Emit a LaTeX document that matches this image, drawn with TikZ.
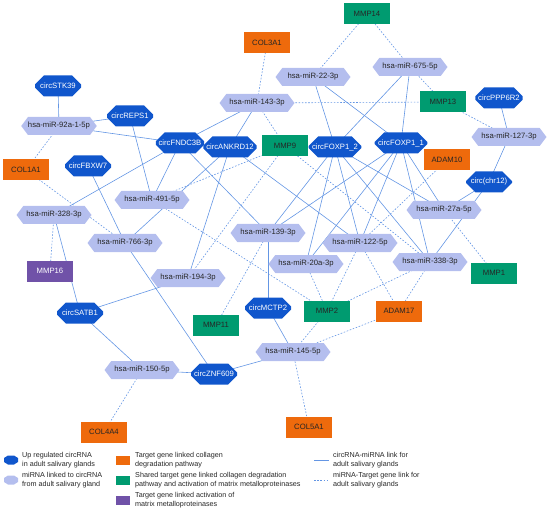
\documentclass[tikz,border=0pt]{standalone}
\usepackage{fontspec}
\setmainfont{Liberation Sans}
\usetikzlibrary{shapes.misc,shapes.symbols,backgrounds}
\definecolor{cblue}{RGB}{16,86,204}
\definecolor{mfill}{RGB}{180,190,238}
\definecolor{elink}{RGB}{100,150,228}
\definecolor{gorange}{RGB}{238,106,12}
\definecolor{ggreen}{RGB}{0,155,112}
\definecolor{gpurple}{RGB}{112,82,168}
\begin{document}
\begin{tikzpicture}[x=1pt,y=-1pt,
  nfont/.style={font=\fontsize{7.7}{8}\selectfont},
  circ/.style={chamfered rectangle, chamfered rectangle xsep=9pt, chamfered rectangle ysep=6pt, fill=cblue, text=white, nfont, inner sep=0pt, minimum width=46pt, minimum height=21pt},
  mirna/.style={signal, signal to=west and east, signal pointer angle=106, fill=mfill, text=black!85, nfont, inner sep=0pt, minimum width=75pt, minimum height=18pt},
  gene/.style={rectangle, nfont, text=black!85, inner sep=0pt, minimum width=46pt, minimum height=21pt},
  orangegene/.style={gene, fill=gorange},
  greengene/.style={gene, fill=ggreen},
  purplegene/.style={gene, fill=gpurple, text=white},
  sl/.style={elink, line width=0.6pt},
  dl/.style={elink, line width=0.6pt, dash pattern=on 1.6pt off 1.6pt},
  leg/.style={font=\fontsize{7.2}{8.5}\selectfont, align=left, anchor=west, inner sep=0pt, text=black!85}
]
\useasboundingbox (0,0) rectangle (550,511);

% circRNA nodes
\node[circ] (STK39) at (58,86) {circSTK39};
\node[circ] (REPS1) at (130,116) {circREPS1};
\node[circ] (FNDC3B) at (180,143) {circFNDC3B};
\node[circ] (ANKRD12) at (230,147) {circANKRD12};
\node[circ] (FBXW7) at (88,166) {circFBXW7};
\node[circ] (FOXP12) at (335,147) {circFOXP1\_2};
\node[circ] (FOXP11) at (401,143) {circFOXP1\_1};
\node[circ] (PPP6R2) at (499,98) {circPPP6R2};
\node[circ] (chr12) at (489,182) {circ(chr12)};
\node[circ] (SATB1) at (80,313) {circSATB1};
\node[circ] (MCTP2) at (268,308) {circMCTP2};
\node[circ] (ZNF609) at (214,374) {circZNF609};

% miRNA nodes
\node[mirna] (m92a) at (59,126) {hsa-miR-92a-1-5p};
\node[mirna] (m143) at (257,103) {hsa-miR-143-3p};
\node[mirna] (m22) at (313,77) {hsa-miR-22-3p};
\node[mirna] (m675) at (410,67) {hsa-miR-675-5p};
\node[mirna] (m127) at (509,137) {hsa-miR-127-3p};
\node[mirna] (m491) at (152,200) {hsa-miR-491-5p};
\node[mirna] (m328) at (54,215) {hsa-miR-328-3p};
\node[mirna] (m766) at (125,243) {hsa-miR-766-3p};
\node[mirna] (m139) at (268,233) {hsa-miR-139-3p};
\node[mirna] (m122) at (360,243) {hsa-miR-122-5p};
\node[mirna] (m27a) at (444,210) {hsa-miR-27a-5p};
\node[mirna] (m20a) at (306,264) {hsa-miR-20a-3p};
\node[mirna] (m338) at (430,262) {hsa-miR-338-3p};
\node[mirna] (m194) at (188,278) {hsa-miR-194-3p};
\node[mirna] (m145) at (293,352) {hsa-miR-145-5p};
\node[mirna] (m150) at (142,370) {hsa-miR-150-5p};

% target genes
\node[greengene] (MMP14) at (367,14) {MMP14};
\node[orangegene] (COL3A1) at (267,43) {COL3A1};
\node[greengene] (MMP13) at (443,102) {MMP13};
\node[orangegene] (ADAM10) at (447,160) {ADAM10};
\node[greengene] (MMP9) at (285,146) {MMP9};
\node[orangegene] (COL1A1) at (26,170) {COL1A1};
\node[purplegene] (MMP16) at (50,271) {MMP16};
\node[greengene] (MMP1) at (494,273) {MMP1};
\node[orangegene] (ADAM17) at (399,311) {ADAM17};
\node[greengene] (MMP2) at (327,311) {MMP2};
\node[greengene] (MMP11) at (216,325) {MMP11};
\node[orangegene] (COL4A4) at (104,432) {COL4A4};
\node[orangegene] (COL5A1) at (309,427) {COL5A1};

\begin{scope}[on background layer]
% circRNA-miRNA links
\foreach \a/\b in {STK39/m92a, REPS1/m92a, m92a/FNDC3B, REPS1/m491,
  FNDC3B/m143, FNDC3B/m328, FNDC3B/m491, FNDC3B/m139,
  ANKRD12/m143, ANKRD12/m766, ANKRD12/m194, ANKRD12/m122,
  FBXW7/m766, m22/FOXP12, m22/FOXP11, m675/FOXP11, m675/FOXP12,
  FOXP12/m139, FOXP12/m20a, FOXP12/m122, FOXP12/m338, FOXP12/m27a,
  FOXP11/m139, FOXP11/m20a, FOXP11/m122, FOXP11/m338, FOXP11/m27a,
  PPP6R2/m127, m127/chr12, chr12/m27a, chr12/m338,
  m328/SATB1, SATB1/m194, SATB1/m150, m150/ZNF609, m766/ZNF609,
  ZNF609/m145, MCTP2/m145, MCTP2/m139}
  \draw[sl] (\a.center) -- (\b.center);
% miRNA-target links
\foreach \a/\b in {MMP14/m22, MMP14/m675, COL3A1/m143, m143/MMP13, m143/MMP9,
  m675/MMP13, MMP13/m127, m92a/COL1A1, COL1A1/m766, m328/MMP16,
  m491/MMP9, m491/MMP2, m194/MMP9, m139/MMP11, MMP9/m338,
  ADAM10/m122, m122/ADAM17, m122/MMP2, m20a/MMP2, m338/ADAM17, m338/MMP2,
  m27a/MMP1, m145/MMP2, m145/ADAM17, m145/COL5A1, m150/COL4A4}
  \draw[dl] (\a.center) -- (\b.center);
\end{scope}

% legend
\fill[cblue] (8,455.5) -- (14,455.5) -- (18,458) -- (18,462) -- (14,464.5) -- (8,464.5) -- (4,462) -- (4,458) -- cycle;
\fill[mfill] (8,475.5) -- (14,475.5) -- (18,478) -- (18,482) -- (14,484.5) -- (8,484.5) -- (4,482) -- (4,478) -- cycle;
\node[leg] (lcirc) at (22,460) {Up regulated circRNA\\in adult salivary glands};
\node[leg] (lmir) at (22,480) {miRNA linked to circRNA\\from adult salivary gland};
\fill[gorange] (116,456) rectangle (130,465);
\fill[ggreen] (116,476) rectangle (130,485);
\fill[gpurple] (116,496) rectangle (130,505);
\node[leg] (lor) at (135,460) {Target gene linked collagen\\degradation pathway};
\node[leg] (lgr) at (135,480) {Shared target gene linked collagen degradation\\pathway and activation of matrix metalloproteinases};
\node[leg] (lpu) at (135,500) {Target gene linked activation of\\matrix metalloproteinases};
\coordinate (ls1) at (314,460); \coordinate (ls2) at (329,460);
\coordinate (ld1) at (314,480); \coordinate (ld2) at (329,480);
\draw[sl] (ls1) -- (ls2);
\draw[dl] (ld1) -- (ld2);
\node[leg] (lsl) at (333,460) {circRNA-miRNA link for\\adult salivary glands};
\node[leg] (ldl) at (333,480) {miRNA-Target gene link for\\adult salivary glands};
\end{tikzpicture}
\end{document}
